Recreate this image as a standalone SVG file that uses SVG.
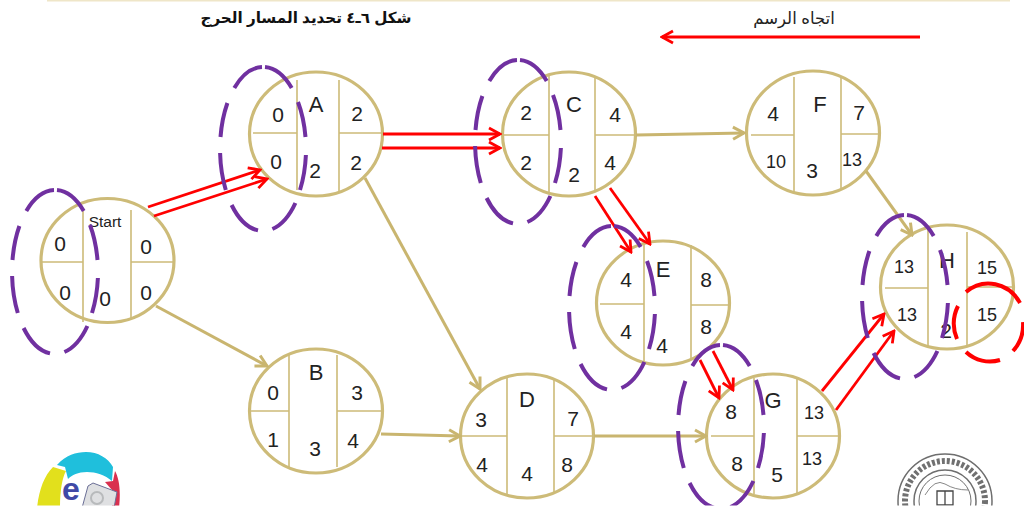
<svg xmlns="http://www.w3.org/2000/svg" xmlns:xlink="http://www.w3.org/1999/xlink" width="1024" height="508" viewBox="0 0 1024 508">
<style>
text{font-family:"Liberation Sans","DejaVu Sans",sans-serif;fill:#222;text-anchor:middle}
.n{font-size:21px}.s{font-size:18px}.l{font-size:22px}
.c{fill:#fff;stroke:#cdbb78;stroke-width:3.2}
.d{stroke:#cdbb78;stroke-width:1.6;fill:none}
.tan{stroke:#c9b56f;stroke-width:3;fill:none;marker-end:url(#mt)}
.red{stroke:#ff0000;stroke-width:2.8;fill:none;marker-end:url(#mr)}
.pur{stroke:#7030a0;stroke-width:4;fill:none}
</style>
<defs>
<marker id="mt" markerUnits="userSpaceOnUse" viewBox="-14 -8 16 16" markerWidth="16" markerHeight="16" orient="auto" refX="0" refY="0"><path d="M-11,-6 L0,0 L-11,6" fill="none" stroke="#c9b56f" stroke-width="3"/></marker>
<marker id="mr" markerUnits="userSpaceOnUse" viewBox="-14 -8 16 16" markerWidth="16" markerHeight="16" orient="auto" refX="0" refY="0"><path d="M-11,-6 L0,0 L-11,6" fill="none" stroke="#ff0000" stroke-width="2.8"/></marker>
<path id="hl" class="pur" d="M35,-47A43,82 0 0 1 42.5,-12M42.9,6A43,82 0 0 1 37,41M32.4,54A43,82 0 0 1 9.4,80M-5,81.4A43,82 0 0 1 -31.4,56M-37.2,41A43,82 0 0 1 -42.9,4M-42.5,-12A43,82 0 0 1 -35.6,-46M-28.7,-61A43,82 0 0 1 -1,-82M2,-82A43,82 0 0 1 28.7,-61"/>
<clipPath id="bot"><rect x="0" y="0" width="1024" height="505.5"/></clipPath>
</defs>
<rect width="1024" height="508" fill="#fff"/>
<rect x="47" y="0" width="963" height="1.5" fill="#efe6c8"/>
<text id="title" x="306" y="23" style="font-size:15.2px;font-weight:bold;fill:#111" direction="rtl" xml:lang="ar">شكل ٦ـ٤ تحديد المسار الحرج</text>
<text id="dirlabel" x="794" y="24" style="font-size:16.5px" direction="rtl" xml:lang="ar">اتجاه الرسم</text>

<g id="nodeStart"><ellipse class="c" cx="107.5" cy="260.5" rx="66.5" ry="62"/><path class="d" d="M83,210V322M131,210V320M41,262H83M131,262H173"/>
<text x="105" y="227" font-size="15.5">Start</text><text class="n" x="60" y="251">0</text><text class="n" x="65" y="300">0</text><text class="n" x="105" y="306">0</text><text class="n" x="146" y="254">0</text><text class="n" x="146" y="300">0</text></g>
<g id="nodeA"><ellipse class="c" cx="316" cy="134" rx="66.5" ry="62"/><path class="d" d="M297,80V190M339,80V191M253,133H297M339,133H382"/>
<text class="l" x="316" y="112">A</text><text class="n" x="278" y="122">0</text><text class="n" x="276" y="169">0</text><text class="n" x="315" y="178">2</text><text class="n" x="357" y="121">2</text><text class="n" x="356" y="170">2</text></g>
<g id="nodeB"><ellipse class="c" cx="316" cy="411" rx="66.5" ry="62"/><path class="d" d="M289,355V467M337,355V467M250,411H289M337,411H382"/>
<text class="l" x="316" y="380">B</text><text class="n" x="273" y="400">0</text><text class="n" x="273" y="447">1</text><text class="n" x="315" y="456">3</text><text class="n" x="357" y="400">3</text><text class="n" x="353" y="448">4</text></g>
<g id="nodeC"><ellipse class="c" cx="569" cy="134" rx="66.5" ry="62"/><path class="d" d="M549,75V194M595,78V192M503,135H549M595,135H636"/>
<text class="l" x="574" y="112">C</text><text class="n" x="526" y="120">2</text><text class="n" x="526" y="170">2</text><text class="n" x="574" y="182">2</text><text class="n" x="615" y="122">4</text><text class="n" x="610" y="170">4</text></g>
<g id="nodeD"><ellipse class="c" cx="527" cy="436" rx="66.5" ry="62"/><path class="d" d="M507,378V496M554,379V493M461,436H507M554,436H594"/>
<text class="l" x="527" y="407">D</text><text class="n" x="481" y="427">3</text><text class="n" x="482" y="472">4</text><text class="n" x="527" y="481">4</text><text class="n" x="573" y="426">7</text><text class="n" x="567" y="472">8</text></g>
<g id="nodeE"><ellipse class="c" cx="663" cy="303" rx="66.5" ry="62"/><path class="d" d="M644,243V363M691,245V360M600,304H644M691,305H729"/>
<text class="l" x="663" y="277">E</text><text class="n" x="626" y="287">4</text><text class="n" x="626" y="339">4</text><text class="n" x="662" y="353">4</text><text class="n" x="706" y="287">8</text><text class="n" x="706" y="334">8</text></g>
<g id="nodeF"><ellipse class="c" cx="813" cy="133" rx="66.5" ry="62"/><path class="d" d="M794,77V192M841,77V188M751,135H794M841,134H880"/>
<text class="l" x="820" y="112">F</text><text class="n" x="773" y="121">4</text><text class="s" x="776" y="168">10</text><text class="n" x="812" y="178">3</text><text class="n" x="859" y="120">7</text><text class="s" x="852" y="166">13</text></g>
<g id="nodeG"><ellipse class="c" cx="773" cy="436" rx="66.5" ry="62"/><path class="d" d="M754,378V494M797,378V494M711,436H754M797,436H840"/>
<text class="l" x="773" y="408">G</text><text class="n" x="731" y="419">8</text><text class="n" x="737" y="471">8</text><text class="n" x="777" y="482">5</text><text class="s" x="814" y="419">13</text><text class="s" x="812" y="465">13</text></g>
<g id="nodeH"><ellipse class="c" cx="947" cy="287" rx="66.5" ry="62"/><path class="d" d="M928,228V346M967,232V345M885,288H928M967,287H1013"/>
<text class="l" x="947" y="268">H</text><text class="s" x="904" y="273">13</text><text class="s" x="907" y="321">13</text><text class="n" x="946" y="338">2</text><text class="s" x="987" y="274">15</text><text class="s" x="987" y="321">15</text></g>

<g id="connectors">
<path class="tan" d="M156,306L267,366"/>
<path class="tan" d="M365,178L480,389"/>
<path class="tan" d="M381,434L460,436"/>
<path class="tan" d="M636,135L744,133"/>
<path class="tan" d="M594,436L706,436"/>
<path class="tan" d="M866,171L912,235"/>
<path class="red" d="M148,207L260,170"/>
<path class="red" d="M154,216L267,179"/>
<path class="red" d="M383,134L500,134"/>
<path class="red" d="M382,148L500,148"/>
<path class="red" d="M595,196L631,252"/>
<path class="red" d="M610,188L650,244"/>
<path class="red" d="M700,360L719,398"/>
<path class="red" d="M713,351L733,390"/>
<path class="red" d="M822,391L884,314"/>
<path class="red" d="M836,410L894,331"/>
<path class="red" style="stroke-width:3.2" d="M920,37L662,37"/>
</g>

<g id="highlights">
<use xlink:href="#hl" href="#hl" x="55" y="272"/>
<use xlink:href="#hl" href="#hl" x="263" y="149"/>
<use xlink:href="#hl" href="#hl" x="518" y="142"/>
<use xlink:href="#hl" href="#hl" x="612" y="308"/>
<g clip-path="url(#bot)"><use xlink:href="#hl" href="#hl" x="721" y="427"/></g>
<use xlink:href="#hl" href="#hl" x="905" y="297"/>
<path fill="none" stroke="#ff0000" stroke-width="4" d="M966,292A36,38 0 0 1 1020,303M958,306A36,38 0 0 0 957,339M966,352A36,38 0 0 0 1000,360M1013,351A36,38 0 0 0 1023,322"/>
</g>

<g id="logo">
<g clip-path="url(#bot)">
<path fill="#e2e01c" d="M37,508C39,490 44,476 53,467L66,471C62,478 60,492 60,508Z"/>
<path fill="#1fbfdc" d="M57,465C66,455 76,452 86,452C98,452 108,458 113,467L112,481C105,475 96,472 87,472C78,472 72,475 68,479L65,467Z"/>
<path fill="#d9304f" d="M115,471C119,478 121,490 119,508H112V490L105,482L113,481Z"/>
<path fill="#dfe0e2" stroke="#6b6f96" stroke-width="1" d="M82,508L88,486L93,483L117,492L114,508Z"/>
<circle cx="97" cy="498" r="6" fill="none" stroke="#b8babc" stroke-width="2"/>
</g>
<text x="71" y="500" style="font-weight:bold;font-size:32px;fill:#4049a6">e</text>
</g>

<g id="seal" clip-path="url(#bot)" fill="none" stroke="#6e6e6e">
<circle cx="945" cy="501" r="47" stroke-width="1.5"/>
<circle cx="945" cy="501" r="40" stroke="#333" stroke-width="6" stroke-dasharray="3 2" opacity=".7"/>
<circle cx="945" cy="501" r="31" stroke-width="1.5"/>
<circle cx="945" cy="501" r="26" stroke-width="1"/>
<path stroke="#888" d="M925,495Q935,478 945,484T968,490"/>
<path stroke="#444" stroke-width="1.3" d="M937,491H953V505H937ZM945,491V505"/>
</g>
</svg>
